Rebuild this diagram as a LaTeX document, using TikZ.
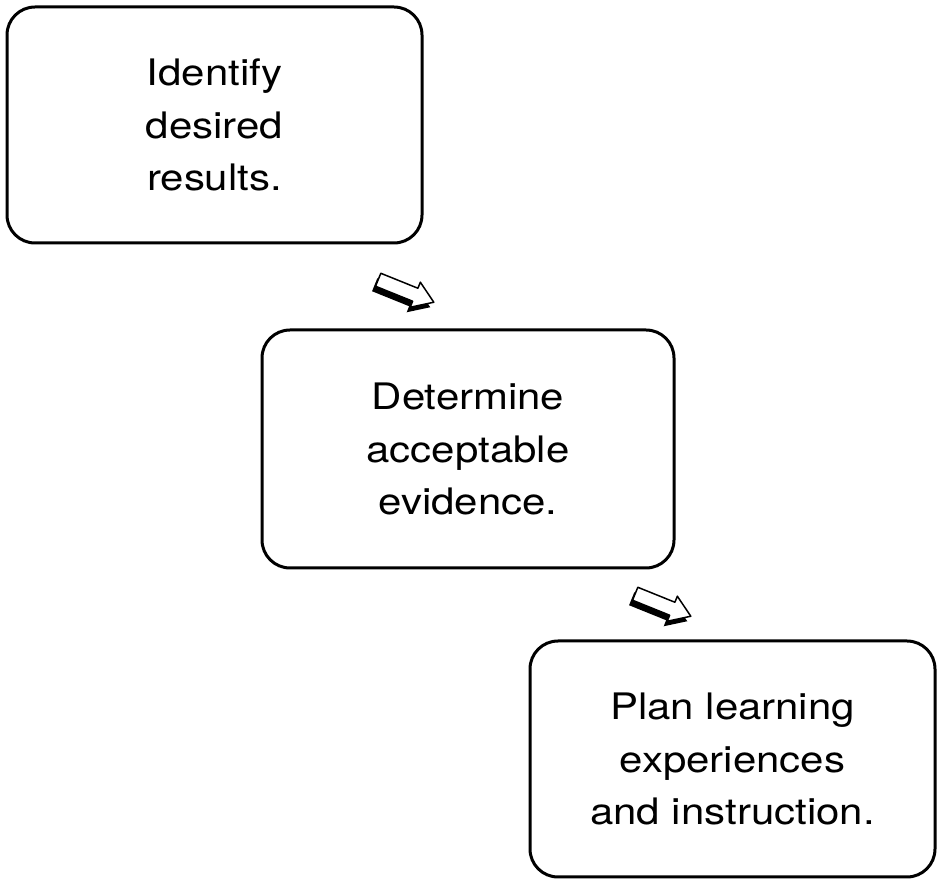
\documentclass[tikz,border=0pt]{standalone}
\usepackage{fontspec}
\setmainfont{TeX Gyre Heros}[FakeStretch=1.15]
\begin{document}
\begin{tikzpicture}[x=1pt,y=1pt,
  stage/.style={draw=black, line width=3pt, rounded corners=28pt, fill=white,
    align=center, font=\fontsize{36.5}{52.5}\selectfont, inner sep=0pt},
  blockarrow/.pic={
    \fill[black, shift={(-3.5,-5)}, rotate=-22]
      (-30,7) -- (10,7) -- (10,13.5) -- (30,0) -- (10,-13.5) -- (10,-7) -- (-30,-7) -- cycle;
    \draw[fill=white, line width=1.5pt, line join=round, rotate=-22]
      (-30,7) -- (10,7) -- (10,13.5) -- (30,0) -- (10,-13.5) -- (10,-7) -- (-30,-7) -- cycle;
  }]
\useasboundingbox (0,0) rectangle (938,879);
\node[stage, minimum width=415pt, minimum height=236pt] (s1) at (214.5,754)
  {Identify\\desired\\results.};
\node[stage, minimum width=412pt, minimum height=238pt] (s2) at (468,430)
  {Determine\\acceptable\\evidence.};
\node[stage, minimum width=405pt, minimum height=236pt] (s3) at (732.5,120)
  {Plan learning\\experiences\\and instruction.};
\coordinate (a1) at (406,588);
\coordinate (a2) at (663,274);
\pic at (a1) {blockarrow};
\pic at (a2) {blockarrow};
\end{tikzpicture}
\end{document}
